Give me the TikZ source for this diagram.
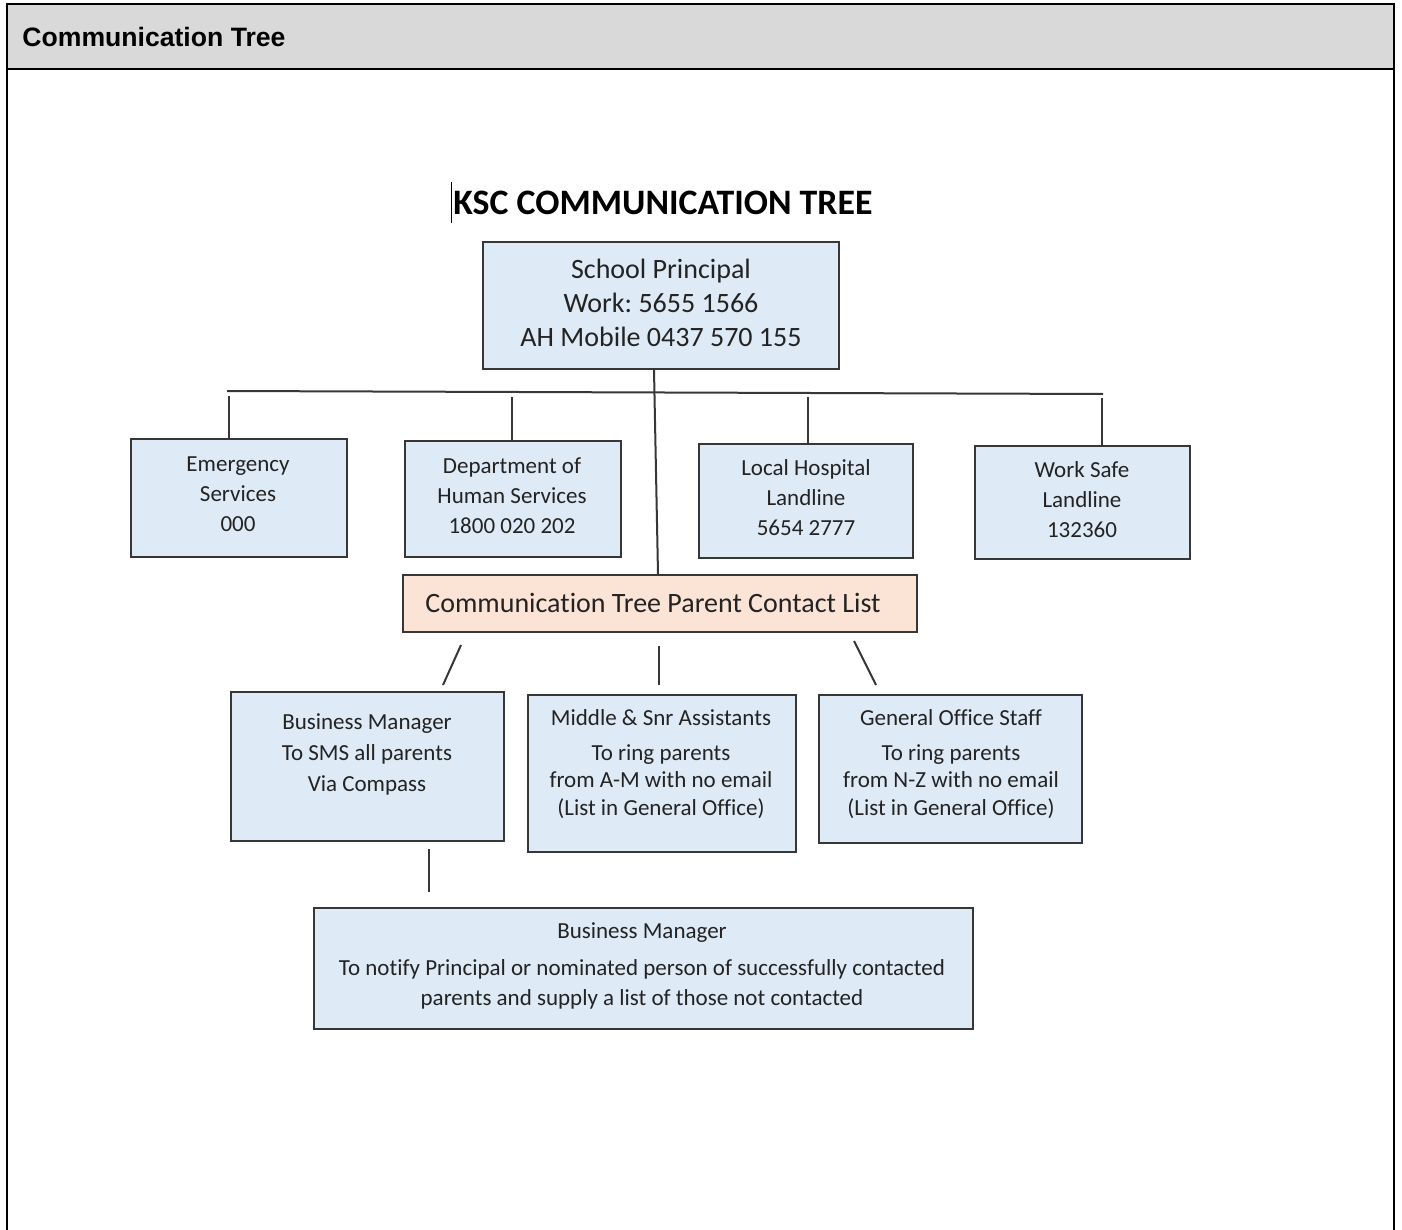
\documentclass[tikz,border=0pt]{standalone}
\usepackage{fontspec}
\setmainfont{Carlito}[Ligatures={NoCommon}]
\newfontfamily\hdrfont{Liberation Sans}
\usetikzlibrary{calc}
\frenchspacing
\definecolor{boxblue}{RGB}{222,234,246}
\definecolor{peach}{RGB}{251,228,214}
\definecolor{hdrgray}{RGB}{217,217,217}
\definecolor{edge}{RGB}{55,55,55}
\definecolor{ink}{RGB}{35,35,35}
\begin{document}
\begin{tikzpicture}[x=0.5pt,y=-0.5pt,
  box/.style={draw=edge,line width=1pt,fill=boxblue,inner sep=0pt},
  pbox/.style={box,fill=peach},
  txt/.style={align=center,inner sep=0pt,text=ink},
  small/.style={font=\frenchspacing\fontsize{11.5}{15}\selectfont},
  big/.style={font=\frenchspacing\fontsize{14}{17}\selectfont},
  conn/.style={draw=edge,line width=1pt}]
\useasboundingbox (0,0) rectangle (1402,1230);
\fill[white] (0,0) rectangle (1402,1230);
% frame and header
\filldraw[fill=hdrgray,draw=black,line width=1pt] (7,69) -- (7,4) -- (1394,4) -- (1394,69) -- cycle;
\draw[black,line width=1pt] (7,69) -- (7,1230);
\draw[black,line width=1pt] (1394,69) -- (1394,1230);
\node[anchor=base west,inner sep=0pt,font=\hdrfont\bfseries\fontsize{13.3}{16}\selectfont] (hdr) at (22,47) {Communication Tree};
% title
\node[anchor=base west,inner sep=0pt,font=\bfseries\fontsize{17.9}{21}\selectfont] (title) at (453,215) {KSC COMMUNICATION TREE};
\draw[black,line width=0.5pt] (451,182) -- (451,223);
% boxes
\node[box,minimum width=178pt,minimum height=63.5pt] (prin) at (661,305.5) {};
\node[box,minimum width=108pt,minimum height=59pt] (emerg) at (239,498) {};
\node[box,minimum width=108pt,minimum height=58pt] (dept) at (513,499) {};
\node[box,minimum width=107pt,minimum height=57pt] (hosp) at (806,501) {};
\node[box,minimum width=107.5pt,minimum height=56.5pt] (work) at (1082.5,502.5) {};
\node[pbox,minimum width=257pt,minimum height=28.5pt] (parent) at (660,603.5) {};
\node[box,minimum width=136.5pt,minimum height=74.5pt] (bm) at (367.5,766.5) {};
\node[box,minimum width=134pt,minimum height=78.5pt] (mid) at (662,773.5) {};
\node[box,minimum width=131.5pt,minimum height=74pt] (gen) at (950.5,769) {};
\node[box,minimum width=329.5pt,minimum height=60.5pt] (final) at (643.5,968.5) {};
% texts
\node[txt,big] (tprin) at (661,303) {School Principal\\Work: 5655 1566\\AH Mobile 0437 570 155};
\node[txt,small] (temerg) at (238,494) {Emergency\\Services\\000};
\node[txt,small] (tdept) at (512,496) {Department of\\Human Services\\1800 020 202};
\node[txt,small] (thosp) at (806,498) {Local Hospital\\Landline\\5654 2777};
\node[txt,small] (twork) at (1082,500) {Work Safe\\Landline\\132360};
\node[txt,big] (tparent) at (653,603) {Communication Tree Parent Contact List};
\node[txt,font=\frenchspacing\fontsize{11.5}{15.5}\selectfont] (tbm) at (367,754) {Business Manager\\To SMS all parents\\Via Compass};
\node[txt,font=\frenchspacing\fontsize{11.5}{13.75}\selectfont] (tmid) at (661,764) {Middle \& Snr Assistants\\[3.75pt]To ring parents\\from A-M with no email\\(List in General Office)};
\node[txt,font=\frenchspacing\fontsize{11.5}{13.75}\selectfont] (tgen) at (951,764) {General Office Staff\\[3.75pt]To ring parents\\from N-Z with no email\\(List in General Office)};
\node[txt,font=\frenchspacing\fontsize{11.5}{15}\selectfont] (tfinal) at (642,965.5) {Business Manager\\[3.5pt]To notify Principal or nominated person of successfully contacted\\parents and supply a list of those not contacted};
% connectors
\coordinate (busL) at (227,391);
\coordinate (busR) at (1103,394);
\draw[conn] (busL) -- (busR);
\draw[conn] ($(prin.south)+(-7,0)$) -- ($(parent.north)+(-2,0)$);
\coordinate (d1) at (229,396);
\coordinate (d2) at (512,397);
\coordinate (d3) at (808,397);
\coordinate (d4) at (1102,398);
\draw[conn] (d1) -- (d1 |- emerg.north);
\draw[conn] (d2) -- (d2 |- dept.north);
\draw[conn] (d3) -- (d3 |- hosp.north);
\draw[conn] (d4) -- (d4 |- work.north);
\draw[conn] ($(parent.south)+(-199,12)$) -- ($(bm.north)+(75.5,-6)$);
\draw[conn] ($(parent.south)+(-1,13)$) -- ($(mid.north)+(-3,-9)$);
\draw[conn] ($(parent.south)+(194,8)$) -- ($(gen.north)+(-74.5,-9)$);
\draw[conn] ($(bm.south)+(61.5,7)$) -- ($(final.north)+(-214.5,-15)$);
\end{tikzpicture}
\end{document}
